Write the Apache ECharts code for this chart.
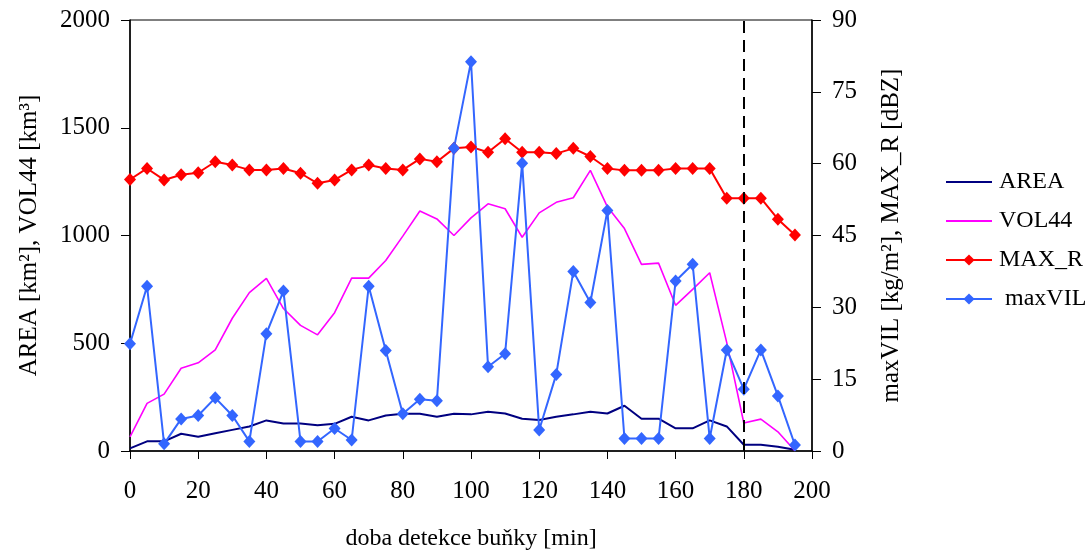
<!DOCTYPE html>
<html>
<head>
<meta charset="utf-8">
<script src="https://cdn.jsdelivr.net/npm/echarts@6/dist/echarts.min.js"></script>
<style>html,body{margin:0;padding:0;background:#fff}#c{width:1092px;height:556px}</style>
</head>
<body>
<div id="c"></div>
<script>
const times = [0,5,10,15,20,25,30,35,40,45,50,55,60,65,70,75,80,85,90,95,100,105,110,115,120,125,130,135,140,145,150,155,160,165,170,175,180,185,190,195];
const area = [12,45,45,80,66,82,98,114,142,128,128,120,126,159,142,165,173,173,159,173,170,182,174,150,144,159,170,182,174,210,150,150,105,105,142,114,29,29,20,6];
const vol44 = [66,221,264,384,409,469,616,735,801,661,583,539,642,802,802,884,997,1114,1077,1000,1082,1147,1124,992,1105,1154,1175,1302,1133,1032,866,872,676,750,827,503,130,148,89,1];
const maxR = [56.7,59.0,56.6,57.7,58.1,60.4,59.7,58.7,58.7,59.0,58.0,55.9,56.6,58.7,59.7,59.0,58.7,61.0,60.4,63.2,63.5,62.4,65.2,62.4,62.4,62.1,63.2,61.5,59.0,58.6,58.6,58.6,59.0,59.0,59.0,52.8,52.8,52.8,48.4,45.1];
const maxVIL = [22.4,34.4,1.5,6.7,7.4,11.1,7.4,2.0,24.5,33.4,2.0,2.0,4.7,2.3,34.4,21.0,7.8,10.8,10.5,63.2,81.3,17.6,20.3,60.1,4.4,16.0,37.5,31.0,50.2,2.6,2.6,2.6,35.5,39.0,2.6,21.1,12.9,21.1,11.5,1.25];
const markerTime = 180;
const xTitle = 'doba detekce buňky [min]';
const yLeftTitle = 'AREA [km²], VOL44 [km³]';
const yRightTitle = 'maxVIL [kg/m²], MAX_R [dBZ]';

const pairs = arr => times.map((t, i) => [t, arr[i]]);
const FONT = '"Liberation Serif", "Times New Roman", serif';
const plain = v => String(v);

const chart = echarts.init(document.getElementById('c'), null, {renderer: 'canvas'});
chart.setOption({
  animation: false,
  backgroundColor: '#fff',
  textStyle: {fontFamily: FONT, color: '#000'},
  grid: {left: 130, right: 280, top: 20, bottom: 104, show: true, borderColor: '#000', borderWidth: 1},
  legend: {
    orient: 'vertical', left: 945, top: 170, padding: 0,
    itemWidth: 46, itemHeight: 14, itemGap: 15,
    textStyle: {fontFamily: FONT, fontSize: 24, color: '#000', lineHeight: 24, padding: [0,0,0,2]},
    formatter: n => n === 'maxVIL' ? ' maxVIL' : n,
    data: [
      {name: 'AREA', itemStyle: {opacity: 0}},
      {name: 'VOL44', itemStyle: {opacity: 0}},
      {name: 'MAX_R'},
      {name: 'maxVIL'}
    ]
  },
  xAxis: {
    type: 'value', min: 0, max: 200, interval: 20,
    name: xTitle, nameLocation: 'middle', nameGap: 76,
    nameTextStyle: {fontFamily: FONT, fontSize: 24, color: '#000'},
    axisLine: {show: true, lineStyle: {color: '#000', width: 1.5}},
    axisTick: {show: true, length: 8, inside: false, lineStyle: {color: '#000'}},
    axisLabel: {fontFamily: FONT, fontSize: 25, color: '#000', margin: 28, formatter: plain},
    splitLine: {show: false}
  },
  yAxis: [{
    type: 'value', min: 0, max: 2000, interval: 500, position: 'left',
    name: yLeftTitle, nameLocation: 'middle', nameGap: 88,
    nameTextStyle: {fontFamily: FONT, fontSize: 25, color: '#000'},
    axisLine: {show: true, lineStyle: {color: '#000', width: 1.5}},
    axisTick: {show: true, length: 9, lineStyle: {color: '#000'}},
    axisLabel: {fontFamily: FONT, fontSize: 25, color: '#000', margin: 20, formatter: plain},
    splitLine: {show: false}
  }, {
    type: 'value', min: 0, max: 90, interval: 15, position: 'right',
    name: yRightTitle, nameLocation: 'middle', nameGap: 67,
    nameTextStyle: {fontFamily: FONT, fontSize: 25, color: '#000'},
    axisLine: {show: true, lineStyle: {color: '#000', width: 1.5}},
    axisTick: {show: true, length: 9, lineStyle: {color: '#000'}},
    axisLabel: {fontFamily: FONT, fontSize: 25, color: '#000', margin: 20, formatter: plain},
    splitLine: {show: false}
  }],
  series: [{
    name: 'AREA', type: 'line', yAxisIndex: 0, data: pairs(area),
    symbol: 'none', color: '#000080', lineStyle: {width: 2, color: '#000080'},
    markLine: {
      silent: true, symbol: 'none', label: {show: false},
      lineStyle: {color: '#000', type: [12, 7], width: 2},
      data: [{xAxis: markerTime}]
    }
  }, {
    name: 'VOL44', type: 'line', yAxisIndex: 0, data: pairs(vol44),
    symbol: 'none', color: '#FF00FF', lineStyle: {width: 1.6, color: '#FF00FF'}
  }, {
    name: 'MAX_R', type: 'line', yAxisIndex: 1, data: pairs(maxR),
    symbol: 'diamond', symbolSize: [12, 13], showAllSymbol: true,
    color: '#FF0000', itemStyle: {color: '#FF0000'}, lineStyle: {width: 2, color: '#FF0000'}
  }, {
    name: 'maxVIL', type: 'line', yAxisIndex: 1, data: pairs(maxVIL),
    symbol: 'diamond', symbolSize: [12, 13], showAllSymbol: true,
    color: '#3366FF', itemStyle: {color: '#3366FF'}, lineStyle: {width: 2, color: '#3366FF'}
  }]
});
</script>
</body>
</html>
